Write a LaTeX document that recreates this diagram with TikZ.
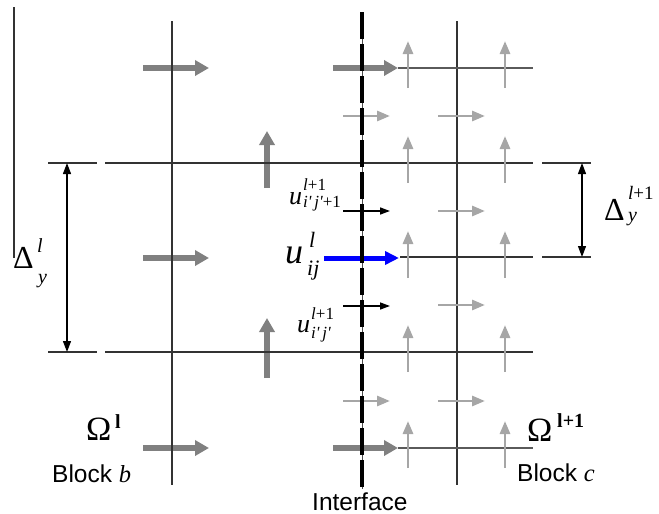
\documentclass[tikz,border=0pt]{standalone}
\usepackage{fontspec}
\setmainfont{Liberation Serif}
\newfontfamily\serf{Liberation Serif}
\newfontfamily\sansf{Liberation Sans}
\usetikzlibrary{arrows.meta}
\definecolor{lineC}{HTML}{333333}
\definecolor{thickC}{HTML}{808080}
\definecolor{lightC}{HTML}{A6A6A6}
\definecolor{midC}{HTML}{5A5A5A}
\newcommand\fsz[1]{\fontsize{#1}{#1}\selectfont}
\begin{document}
\begin{tikzpicture}[x=1pt,y=-1pt,
  gridline/.style={line width=1.2pt, draw=lineC},
  midline/.style={line width=1.2pt, draw=midC},
  bigarrow/.style={line width=5.5pt, draw=thickC, -{Triangle[length=14pt,width=15pt]}},
  lightarrow/.style={line width=2.8pt, draw=lightC, -{Triangle[length=13pt,width=10pt]}},
  blackarrow/.style={line width=1.5pt, draw=black, -{Triangle[length=10pt,width=7pt]}},
  bluearrow/.style={line width=5pt, draw=blue, -{Triangle[length=14pt,width=13pt]}},
  dimarrow/.style={line width=1.2pt, draw=black, {Triangle[length=11pt,width=8pt]}-{Triangle[length=11pt,width=8pt]}},
  iface/.style={line width=4pt, draw=black, dash pattern=on 27pt off 5pt},
  ifacethin/.style={line width=1pt, draw=black!70},
  lbl/.style={inner sep=0pt, anchor=base west, font=\serf},
]
\useasboundingbox (0,0) rectangle (659,514);

% thick gray arrows
\foreach \n/\xa/\ya/\xb/\yb in {
  ga/143/68/209/68, gb/143/258/209/258, gc/143/448/209/448,
  gd/333/68/398/68, ge/333/448/398/448,
  gf/267/188/267/131, gg/267/378/267/318}{
  \coordinate (\n s) at (\xa,\ya);
  \coordinate (\n e) at (\xb,\yb);
  \draw[bigarrow] (\n s) -- (\n e);
}

% blue arrow
\coordinate (blues) at (324,258);
\coordinate (bluee) at (399,258);
\draw[bluearrow] (blues) -- (bluee);

% grid lines
\foreach \n/\xa/\ya/\xb/\yb in {
  h1a/48/163/97/163, h1b/105/163/533/163, h1c/542/163/591/163,
  h2b/400/257/533/257, h2c/542/257/591/257,
  h3a/48/352/97/352, h3b/105/352/533/352,
  v0/14/7/14/258, v1/172/21/172/485, v2/457/21/457/485}{
  \coordinate (\n s) at (\xa,\ya);
  \coordinate (\n e) at (\xb,\yb);
  \draw[gridline] (\n s) -- (\n e);
}
\foreach \n/\xa/\ya/\xb/\yb in {h4/398/68/533/68, h5/398/448/533/448}{
  \coordinate (\n s) at (\xa,\ya);
  \coordinate (\n e) at (\xb,\yb);
  \draw[midline] (\n s) -- (\n e);
}

% light gray up arrows
\foreach \yy in {68,163,258,352,448}{
  \foreach \xx in {408,505}{
    \coordinate (lu\xx-\yy s) at (\xx,{\yy+20});
    \coordinate (lu\xx-\yy e) at (\xx,{\yy-27});
    \draw[lightarrow] (lu\xx-\yy s) -- (lu\xx-\yy e);
  }
}
% light gray right arrows
\foreach \yy in {116,211,305,401}{
  \coordinate (lr-\yy s) at (438,\yy);
  \coordinate (lr-\yy e) at (485,\yy);
  \draw[lightarrow] (lr-\yy s) -- (lr-\yy e);
}
\foreach \yy in {116,401}{
  \coordinate (ll-\yy s) at (343,\yy);
  \coordinate (ll-\yy e) at (390,\yy);
  \draw[lightarrow] (ll-\yy s) -- (ll-\yy e);
}
% black arrows at interface
\foreach \yy in {211,306}{
  \coordinate (bk-\yy s) at (343,\yy);
  \coordinate (bk-\yy e) at (390,\yy);
  \draw[blackarrow] (bk-\yy s) -- (bk-\yy e);
}

% interface line
\coordinate (ifs) at (362,12);
\coordinate (ife) at (362,489);
\draw[ifacethin] (ifs) -- (ife);
\draw[iface] (ifs) -- (ife);

% dimension arrows
\coordinate (dla) at (67,163);
\coordinate (dlb) at (67,352);
\draw[dimarrow] (dla) -- (dlb);
\coordinate (dra) at (582,163);
\coordinate (drb) at (582,257);
\draw[dimarrow] (dra) -- (drb);

% labels: Delta
\node[lbl] (dl) at (13,268) {\fsz{32}Δ};
\node[lbl] (dlsup) at (37,252) {\fsz{20}\itshape l};
\node[lbl] (dlsub) at (38,283) {\fsz{20}\itshape y};
\node[lbl] (dr) at (604,220) {\fsz{32}Δ};
\node[lbl] (drsup) at (628,199) {\fsz{19}\itshape l\upshape +1};
\node[lbl] (drsub) at (628,221) {\fsz{20}\itshape y};

% labels: u
\node[lbl] (ua) at (289,204) {\fsz{26}\itshape u};
\node[lbl] (uasup) at (303,190) {\fsz{17}\itshape l\upshape +1};
\node[lbl] (uasub) at (303,207) {\fsz{17}\itshape i'\,j'\upshape +1};
\node[lbl] (ub) at (285,263) {\fsz{36}\itshape u};
\node[lbl] (ubsup) at (309,247) {\fsz{22}\itshape l};
\node[lbl] (ubsub) at (307,275) {\fsz{22}\itshape ij};
\node[lbl] (uc) at (297,332) {\fsz{26}\itshape u};
\node[lbl] (ucsup) at (311,319) {\fsz{17}\itshape l\upshape +1};
\node[lbl] (ucsub) at (311,338) {\fsz{17}\itshape i'\,j'};

% Omega labels
\node[lbl] (om1) at (86,440) {\fsz{34}Ω};
\node[lbl] (om1sup) at (115,428) {\fsz{20}\bfseries l};
\node[lbl] (om2) at (527,441) {\fsz{34}Ω};
\node[lbl] (om2sup) at (557,427) {\fsz{20}\bfseries l+1};

% block / interface text
\node[lbl] (blb) at (52,482) {\fsz{24.5}\sansf Block \serf\itshape b};
\node[lbl] (blc) at (517,481) {\fsz{24.5}\sansf Block \serf\itshape c};
\node[lbl] (ifl) at (312,510) {\fsz{24.5}\sansf Interface};
\end{tikzpicture}
\end{document}
